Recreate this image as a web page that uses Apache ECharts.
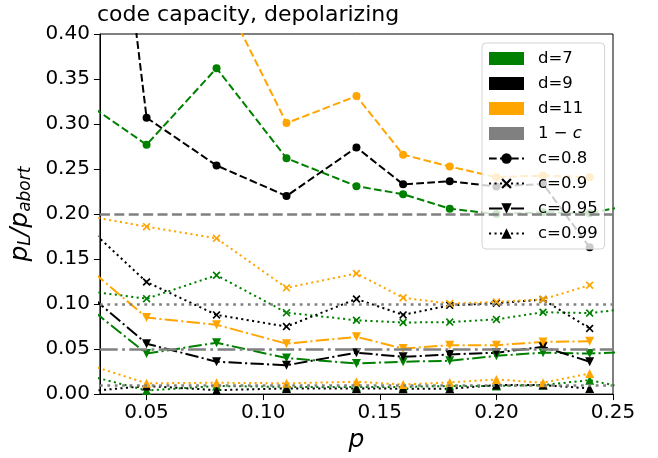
<!DOCTYPE html>
<html>
<head>
<meta charset="utf-8">
<script src="https://cdn.jsdelivr.net/npm/echarts@6/dist/echarts.min.js"></script>
<style>
  html, body { margin: 0; padding: 0; background: #fff; }
  #chart { width: 658px; height: 458px; }
</style>
</head>
<body>
<div id="chart"></div>
<script>
// Physical error rates p at which each distance was simulated
const pD7  = [0.02, 0.05, 0.08, 0.11, 0.14, 0.16, 0.18, 0.20, 0.22, 0.24, 0.26];
const pD9  = [0.02, 0.05, 0.08, 0.11, 0.14, 0.16, 0.18, 0.20, 0.22, 0.24];
const pD11 = [0.02, 0.05, 0.08, 0.11, 0.14, 0.16, 0.18, 0.20, 0.22, 0.24];

// p_L / p_abort, distance 7
const d7c080 = [0.331, 0.277, 0.362, 0.262, 0.231, 0.222, 0.206, 0.200, 0.202, 0.201, 0.211];
const d7c090 = [0.116, 0.106, 0.132, 0.0905, 0.082, 0.0795, 0.080, 0.083, 0.091, 0.090, 0.096];
const d7c095 = [0.107, 0.045, 0.057, 0.040, 0.034, 0.036, 0.037, 0.0425, 0.046, 0.045, 0.047];
const d7c099 = [0.024, 0.004, 0.009, 0.008, 0.008, 0.008, 0.009, 0.009, 0.010, 0.0155, 0.0045];

// p_L / p_abort, distance 9
const d9c080 = [0.95, 0.307, 0.254, 0.220, 0.274, 0.233, 0.2365, 0.2305, 0.2335, 0.163];
const d9c090 = [0.197, 0.1245, 0.088, 0.075, 0.1057, 0.088, 0.0986, 0.101, 0.105, 0.073];
const d9c095 = [0.122, 0.056, 0.036, 0.032, 0.046, 0.0414, 0.044, 0.046, 0.0525, 0.036];
const d9c099 = [0.002, 0.009, 0.0044, 0.0063, 0.0063, 0.006, 0.006, 0.010, 0.010, 0.0063];

// p_L / p_abort, distance 11
const d11c080 = [0.75, 0.58, 0.457, 0.301, 0.331, 0.266, 0.2527, 0.241, 0.2427, 0.241];
const d11c090 = [0.200, 0.186, 0.173, 0.118, 0.134, 0.107, 0.1005, 0.1024, 0.1053, 0.121];
const d11c095 = [0.151, 0.085, 0.077, 0.056, 0.0636, 0.0506, 0.0543, 0.0543, 0.058, 0.0587];
const d11c099 = [0.037, 0.012, 0.0126, 0.012, 0.0137, 0.0107, 0.013, 0.0163, 0.0126, 0.0229];

// Reference levels 1 - c for c = 0.8, 0.9, 0.95, 0.99
const refLevels = [0.20, 0.10, 0.05, 0.01];

const xTicks = [0.05, 0.10, 0.15, 0.20, 0.25];

const FONT = 'DejaVu Sans';
const GREEN = '#008000', BLACK = '#000000', ORANGE = '#ffa500', GRAY = '#808080';

const distances = [
  { name: 'd=7',  color: GREEN,  p: pD7,  vals: [d7c080, d7c090, d7c095, d7c099] },
  { name: 'd=9',  color: BLACK,  p: pD9,  vals: [d9c080, d9c090, d9c095, d9c099] },
  { name: 'd=11', color: ORANGE, p: pD11, vals: [d11c080, d11c090, d11c095, d11c099] }
];

const CROSS = 'path://M1.5,0L5,3.5L8.5,0L10,1.5L6.5,5L10,8.5L8.5,10L5,6.5L1.5,10L0,8.5L3.5,5L0,1.5Z';

// Marker and line style for each threshold c
const cStyles = [
  { name: 'c=0.8',  dash: [7.7, 3.3],           symbol: 'circle',   size: 8, rot: 0 },
  { name: 'c=0.9',  dash: [2.1, 3.4],           symbol: CROSS,      size: 8, rot: 0 },
  { name: 'c=0.95', dash: [13.3, 3.3, 2.1, 3.3], symbol: 'triangle', size: 9, rot: 180 },
  { name: 'c=0.99', dash: [2.1, 3.4],           symbol: 'triangle', size: 9, rot: 0 }
];

const refDash = [[10, 4.4], [2.8, 4.6], [17.8, 4.4, 2.8, 4.4], [2.8, 4.6]];

const series = [];

// Horizontal 1 - c guides
series.push({
  name: 'ref', type: 'line', data: [], silent: true,
  markLine: {
    silent: true, symbol: ['none', 'none'], label: { show: false },
    animation: false,
    data: refLevels.map((v, i) => ({
      yAxis: v,
      lineStyle: { color: GRAY, width: 2.6, type: refDash[i], opacity: 1 }
    }))
  }
});

cStyles.forEach((cs, ci) => {
  distances.forEach(d => {
    series.push({
      name: d.name + ' ' + cs.name,
      type: 'line',
      data: d.p.map((p, k) => [p, d.vals[ci][k]]),
      symbol: cs.symbol,
      symbolSize: cs.size,
      symbolRotate: cs.rot,
      showSymbol: true,
      showAllSymbol: true,
      clip: true,
      color: d.color,
      itemStyle: { color: d.color, borderWidth: 0 },
      lineStyle: { color: d.color, width: 2, type: cs.dash },
      emphasis: { disabled: true },
      silent: true
    });
  });
});

// Legend-only entries
distances.forEach(d => {
  series.push({ name: d.name, type: 'line', data: [], color: d.color, itemStyle: { color: d.color } });
});
series.push({ name: '1 − c', type: 'line', data: [], color: GRAY, itemStyle: { color: GRAY } });
cStyles.forEach(cs => {
  series.push({
    name: cs.name, type: 'line', data: [], color: BLACK,
    symbol: cs.symbol, symbolSize: cs.size, symbolRotate: cs.rot,
    itemStyle: { color: BLACK }, lineStyle: { color: BLACK, width: 2, type: cs.dash }
  });
});

const legendData = distances.map(d => ({ name: d.name, icon: 'rect' }))
  .concat([{ name: '1 − c', icon: 'rect' }])
  .concat(cStyles.map(cs => ({ name: cs.name })));

const chart = echarts.init(document.getElementById('chart'), null, { renderer: 'canvas' });

chart.setOption({
  animation: false,
  backgroundColor: '#fff',
  title: {
    text: 'code capacity, depolarizing',
    left: 97, top: 4, padding: 0,
    textStyle: { fontFamily: FONT, fontSize: 22, fontWeight: 'normal', color: '#000' }
  },
  grid: {
    left: 93, right: 45, top: 34, bottom: 62,
    show: true, borderColor: '#000', borderWidth: 1, backgroundColor: 'transparent'
  },
  legend: {
    orient: 'vertical',
    left: 482, top: 43,
    padding: [7, 7, 7, 6],
    itemWidth: 35, itemHeight: 13, itemGap: 8,
    backgroundColor: 'rgba(255,255,255,0.8)',
    borderColor: '#d4d4d4', borderWidth: 1, borderRadius: 4,
    selectedMode: false,
    textStyle: {
      fontFamily: FONT, fontSize: 16.5, color: '#000', lineHeight: 17,
      padding: [0, 0, 0, 9],
      rich: { i: { fontFamily: FONT, fontSize: 16.5, fontStyle: 'italic', color: '#000' } }
    },
    formatter: name => name === '1 − c' ? '1 − {i|c}' : name,
    data: legendData
  },
  xAxis: {
    type: 'value', min: 0.03, max: 0.25,
    name: 'p', nameLocation: 'middle', nameGap: 26,
    nameTextStyle: { fontFamily: FONT, fontSize: 25, fontStyle: 'italic', color: '#000' },
    axisLine: { show: true, onZero: false, lineStyle: { color: '#000', width: 1 } },
    axisTick: { show: true, length: 6, lineStyle: { color: '#000', width: 1 }, customValues: xTicks },
    axisLabel: {
      show: true, margin: 9, color: '#000', fontFamily: FONT, fontSize: 20,
      customValues: xTicks, formatter: v => v.toFixed(2)
    },
    splitLine: { show: false }
  },
  yAxis: {
    type: 'value', min: 0, max: 0.40, interval: 0.05,
    name: '{m|p}{s|L}{m|/p}{s|abort}', nameLocation: 'middle', nameGap: 49, nameRotate: 90,
    nameTextStyle: {
      color: '#000',
      rich: {
        m: { fontFamily: FONT, fontSize: 25, fontStyle: 'italic', color: '#000', lineHeight: 28 },
        s: { fontFamily: FONT, fontSize: 17, fontStyle: 'italic', color: '#000', lineHeight: 12, verticalAlign: 'bottom' }
      }
    },
    axisLine: { show: true, onZero: false, lineStyle: { color: '#000', width: 1 } },
    axisTick: { show: true, length: 6, lineStyle: { color: '#000', width: 1 } },
    axisLabel: {
      show: true, margin: 10, color: '#000', fontFamily: FONT, fontSize: 20,
      formatter: v => v.toFixed(2)
    },
    splitLine: { show: false }
  },
  series: series
});
</script>
</body>
</html>
